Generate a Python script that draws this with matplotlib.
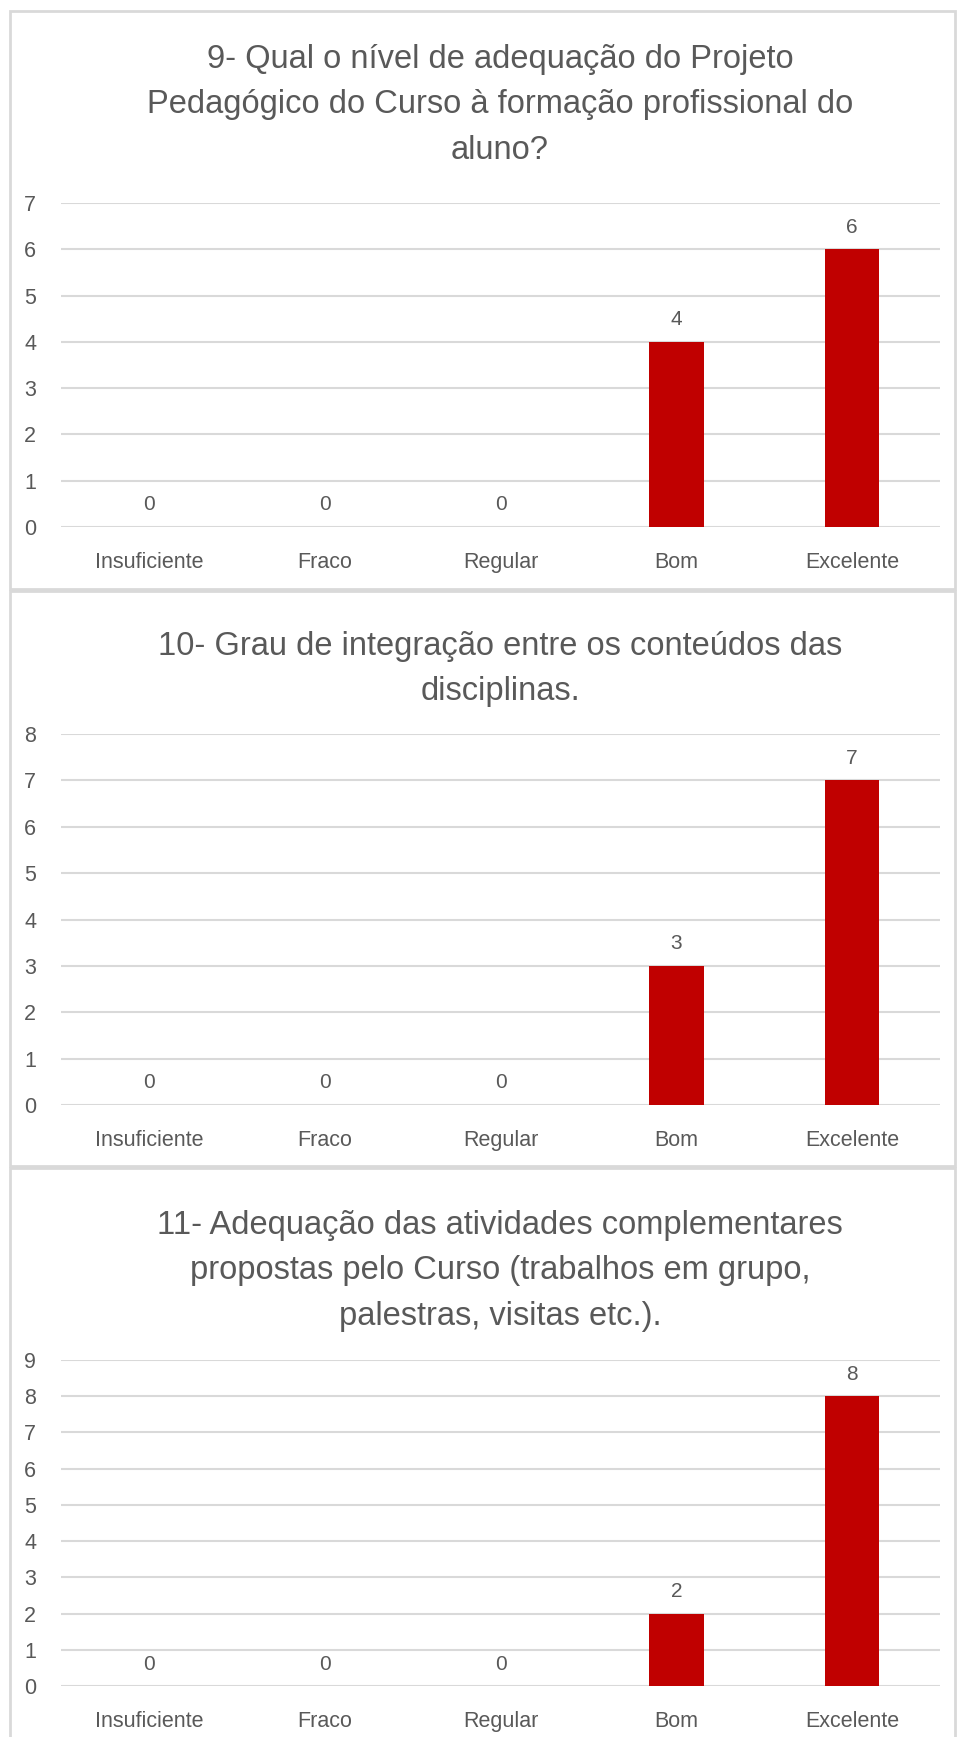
import matplotlib.pyplot as plt
from matplotlib.patches import Rectangle

plt.rcParams['font.family'] = ['Liberation Sans Narrow', 'Liberation Sans', 'DejaVu Sans']

categorias = ['Insuficiente', 'Fraco', 'Regular', 'Bom', 'Excelente']
titulos = [
    "9- Qual o nível de adequação do Projeto\nPedagógico do Curso à formação profissional do\naluno?",
    "10- Grau de integração entre os conteúdos das\ndisciplinas.",
    "11- Adequação das atividades complementares\npropostas pelo Curso (trabalhos em grupo,\npalestras, visitas etc.).",
]
respostas_9 = [0, 0, 0, 4, 6]
respostas_10 = [0, 0, 0, 3, 7]
respostas_11 = [0, 0, 0, 2, 8]
series = [respostas_9, respostas_10, respostas_11]
ymax = [7, 8, 9]

W, H = 958, 1737
fig = plt.figure(figsize=(W / 100, H / 100), dpi=100)

cinza = '#595959'
grade = '#D9D9D9'
vermelho = '#C00000'

# posicoes em pixels: (topo do painel, base do painel, topo do eixo, base do eixo, y do titulo)
paineis = [
    (11, 589, 203, 527, 105),
    (591, 1166, 734, 1105, 669),
    (1168, 1745, 1360, 1686, 1271),
]
x0, x1 = 61, 940

for i, (pt, pb, at, ab, ty) in enumerate(paineis):
    fig.patches.append(Rectangle((10 / W, 1 - pb / H), (955 - 10) / W, (pb - pt) / H,
                                 transform=fig.transFigure, fill=False,
                                 edgecolor=grade, linewidth=2))
    ax = fig.add_axes([x0 / W, 1 - ab / H, (x1 - x0) / W, (ab - at) / H])
    x = range(len(categorias))
    ax.bar(x, series[i], width=0.31, color=vermelho, zorder=3)
    for xi, v in zip(x, series[i]):
        ax.annotate(str(v), (xi, v), xytext=(0, 9), textcoords='offset points',
                    ha='center', va='bottom', fontsize=15, color=cinza)
    ax.set_xlim(-0.5, len(categorias) - 0.5)
    ax.set_ylim(0, ymax[i])
    ax.set_yticks(range(ymax[i] + 1))
    ax.set_xticks(list(x))
    ax.set_xticklabels(categorias)
    ax.grid(axis='y', color=grade, linewidth=1.5, zorder=0)
    ax.set_axisbelow(True)
    for s in ax.spines.values():
        s.set_visible(False)
    ax.tick_params(length=0, labelsize=15.5, colors=cinza)
    ax.tick_params(axis='y', pad=18)
    ax.tick_params(axis='x', pad=18)
    fig.text(500 / W, 1 - ty / H, titulos[i], ha='center', va='center',
             fontsize=23.5, color=cinza, linespacing=1.62)

fig.savefig('out.png', dpi=100)
